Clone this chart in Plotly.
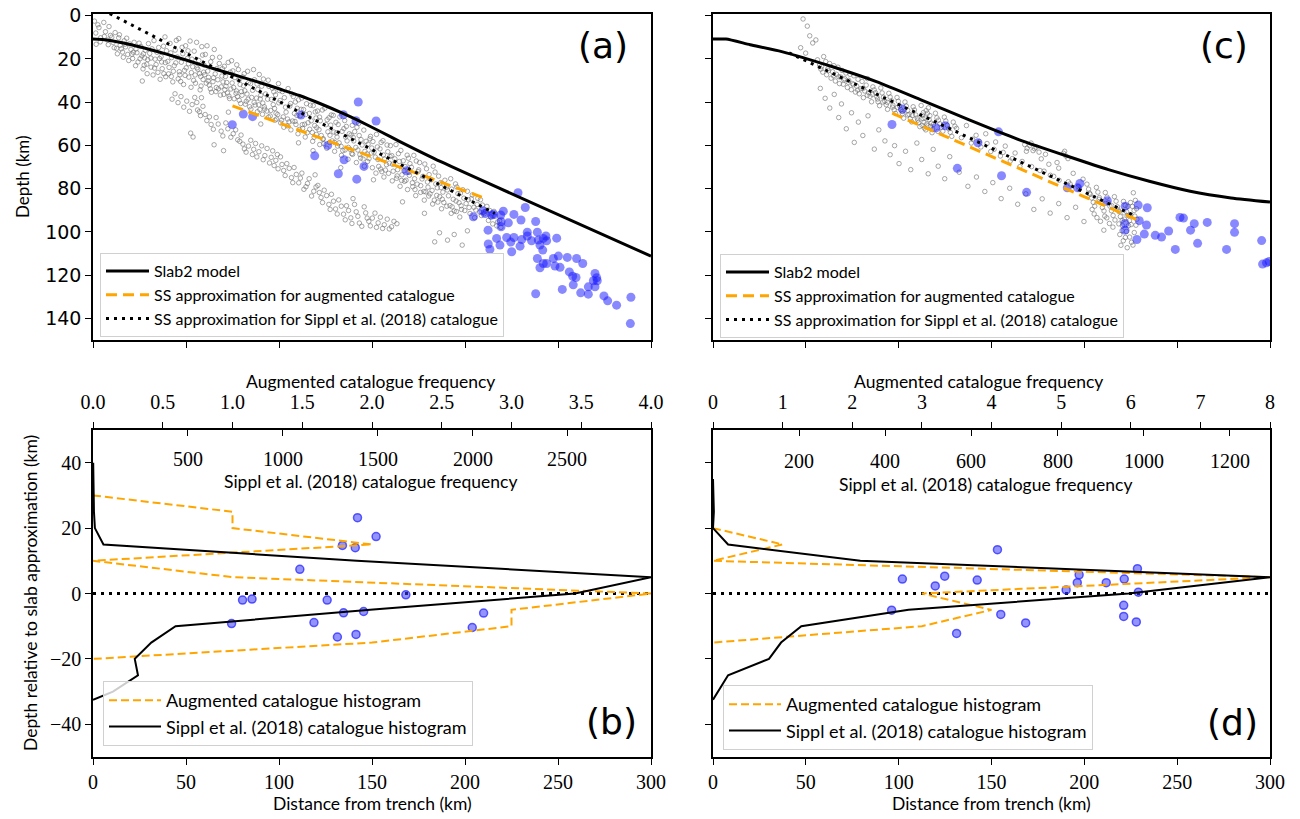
import plotly.graph_objects as go

# ---------------- data: panel (a) ----------------
slab_a_x = [0, 5, 10, 20, 30, 40, 50, 60, 70, 80, 90, 100, 111, 122, 135, 142, 155, 165, 187, 300]
slab_a_d = [10.8, 11.0, 11.6, 13.3, 15.5, 17.9, 20.5, 23.2, 25.8, 28.4, 31.0, 33.8, 36.9, 40.6, 45.4, 48.2, 53.8, 58.2, 67.5, 111.2]
ssaug_a_x = [75, 209]
ssaug_a_d = [41.7, 83.9]
sssip_a_x = [9, 216]
sssip_a_d = [-1.0, 91.4]

blue_a = [(74.9, 50.4), (80.8, 45.5), (85.8, 46.7), (111.8, 45.9), (134.6, 45.8), (141.4, 48.6), (142.6, 39.9),
          (152.2, 48.7), (126.2, 60.0), (119.2, 64.8), (135.0, 66.6), (145.7, 69.7), (131.9, 73.1), (141.8, 75.6),
          (168.6, 71.7),
          (228.5, 81.9), (232.4, 88.7), (220.6, 90.4), (215.2, 91.8), (204.5, 93.0), (219.2, 92.2), (226.3, 91.9),
          (230.1, 94.5), (238.0, 95.2), (219.4, 95.3), (223.3, 95.8), (219.4, 97.6), (212.4, 99.2), (233.5, 100.1),
          (238.9, 100.1), (243.5, 101.9), (233.5, 101.9), (217.0, 103.0), (222.4, 102.6), (226.3, 102.6),
          (230.5, 103.5), (235.8, 104.1), (239.4, 103.8), (242.1, 103.0), (243.9, 104.1), (249.3, 102.9),
          (212.5, 105.6), (218.8, 106.1), (224.6, 104.7), (229.6, 106.6), (240.3, 106.1), (241.8, 108.4),
          (213.4, 108.1), (225.1, 109.2), (250.2, 111.2), (247.5, 112.3), (255.0, 111.8), (260.0, 112.3),
          (263.3, 114.6), (238.9, 112.3), (242.1, 114.6), (240.3, 116.6), (243.9, 114.6), (248.4, 115.8),
          (251.1, 116.4), (256.1, 118.5), (257.9, 120.5), (259.7, 121.1), (269.9, 119.2), (270.8, 121.2),
          (269.0, 122.6), (271.1, 122.6), (258.2, 124.5), (266.3, 125.4), (269.9, 125.4), (252.3, 126.6),
          (262.2, 128.2), (266.3, 128.8), (274.7, 129.6), (276.7, 131.9), (281.5, 133.9), (289.2, 130.2),
          (288.9, 142.4), (238.0, 128.6), (209.5, 90.2), (210.8, 91.5), (214.3, 92.2)]

grey_a = [
    (1.5, 8), (3.2, 5.5), (4.1, 10.2), (5.8, 3.1), (6.7, 7.4), (7.9, 11.3), (8.6, 5.0), (9.4, 9.1),
    (10.8, 12.4), (11.9, 7.8), (12.7, 15.1), (13.8, 10.2), (14.6, 13.7), (15.9, 16.8), (16.8, 11.6), (17.5, 14.4),
    (18.7, 17.9), (19.6, 13.0), (20.4, 15.6), (21.3, 19.8), (22.1, 12.3), (23.6, 17.1), (24.2, 21.4), (25.7, 14.2),
    (26.3, 18.6), (27.5, 22.9), (28.1, 16.0), (29.4, 20.3), (29.8, 12.9), (30.5, 17.4), (31.2, 23.8), (32.8, 11.5),
    (33.4, 20.1), (34.9, 26.2), (35.3, 14.7), (36.6, 18.9), (37.2, 24.5), (38.7, 9.8), (38.9, 21.7), (39.5, 16.2),
    (40.6, 26.9), (41.4, 12.8), (42.3, 19.4), (43.7, 23.1), (44.2, 15.9), (45.8, 29.2), (46.1, 10.6), (47.5, 21.5),
    (48.3, 17.6), (49.2, 25.3), (49.8, 13.9), (50.7, 19.8), (51.5, 28.4), (52.2, 11.7), (53.6, 23.6), (54.4, 16.4),
    (55.1, 31.2), (56.9, 20.7), (57.3, 26.8), (58.5, 14.3), (59.2, 29.5), (59.8, 22.9), (60.4, 17.9), (61.7, 25.6),
    (62.5, 32.1), (63.3, 21.3), (64.8, 28.7), (65.2, 15.6), (66.7, 24.4), (67.4, 33.8), (68.1, 19.2), (69.3, 27.9),
    (69.9, 30.6), (70.6, 23.4), (71.9, 30.9), (72.3, 35.7), (73.8, 26.1), (74.5, 20.8), (75.6, 33.2), (76.3, 28.6),
    (77.7, 37.4), (78.2, 24.9), (79.1, 31.8), (79.8, 35.1), (80.5, 28.3), (81.6, 34.7), (82.4, 39.6), (83.1, 25.7),
    (84.7, 31.4), (85.3, 37.8), (86.8, 29.6), (87.2, 41.3), (88.6, 34.1), (89.4, 27.2), (89.9, 38.5), (90.7, 32.6),
    (91.3, 40.4), (92.8, 36.2), (93.5, 44.1), (94.2, 29.8), (95.9, 38.7), (96.4, 33.5), (97.6, 42.9), (98.1, 36.6),
    (99.3, 45.7), (99.7, 31.4), (100.6, 39.2), (101.8, 35.1), (102.3, 46.8), (103.5, 42.3), (104.9, 33.7),
    (105.4, 49.1), (106.2, 40.6), (107.7, 37.4), (108.3, 45.2), (109.1, 50.3), (109.8, 42.8), (110.5, 38.9),
    (111.4, 46.3), (112.7, 52.1), (113.2, 43.4), (114.8, 40.7), (115.6, 49.5), (116.3, 45.2), (117.9, 54.0),
    (118.4, 41.6), (119.2, 50.8), (119.9, 47.3), (120.7, 44.1), (121.5, 52.7), (122.2, 48.6), (123.8, 56.9),
    (124.6, 42.8), (125.3, 50.4), (126.9, 47.2), (127.4, 55.3), (128.1, 45.9), (129.5, 53.8), (129.8, 58.6),
    (130.6, 49.3), (131.2, 56.1), (132.7, 46.8), (133.4, 60.4), (134.9, 52.2), (135.3, 48.5), (136.6, 57.9),
    (137.8, 54.6), (138.2, 61.8), (139.4, 50.7), (139.9, 56.3), (140.7, 53.6), (141.3, 60.9), (142.8, 49.8),
    (143.5, 64.2), (144.1, 57.3), (145.6, 52.9), (146.2, 62.7), (147.9, 59.4), (148.4, 66.1), (149.2, 55.8),
    (149.7, 63.5), (150.5, 58.2), (151.8, 65.4), (152.4, 54.9), (153.6, 69.7), (154.3, 61.6), (155.9, 57.8),
    (156.7, 66.3), (157.2, 71.4), (158.5, 62.9), (159.3, 68.2), (159.9, 60.1), (160.6, 64.7), (161.4, 71.9),
    (162.9, 59.6), (163.2, 75.2), (164.7, 67.4), (165.5, 62.3), (166.1, 73.6), (167.8, 69.8), (168.3, 76.1),
    (169.6, 65.9), (169.9, 72.5), (170.4, 68.4), (171.7, 77.3), (172.5, 64.6), (173.1, 80.4), (174.8, 72.1),
    (175.6, 67.9), (176.2, 78.6), (177.4, 74.3), (178.9, 81.5), (179.3, 70.8), (179.8, 76.9), (180.7, 73.5),
    (181.2, 82.4), (182.9, 69.6), (183.5, 85.3), (184.3, 77.8), (185.8, 74.2), (186.4, 83.7), (187.1, 79.5),
    (188.6, 86.4), (189.2, 76.1), (190.5, 80.6), (191.9, 87.8), (192.3, 75.4), (193.7, 84.9), (194.2, 90.3),
    (195.6, 79.2), (196.8, 86.5), (197.5, 82.1), (198.1, 89.6), (199.4, 84.4), (200.6, 86.9), (201.3, 81.2),
    (202.7, 91.5), (203.4, 84.7), (204.8, 88.6), (205.2, 93.4), (206.5, 87.3), (207.9, 90.8), (208.3, 85.1),
    (210.4, 91.6), (211.8, 88.2), (212.6, 94.7), (213.3, 90.1), (214.9, 96.3), (216.2, 92.8), (217.5, 95.4),
    (2.6, 4.2), (3.9, 12.1), (6.1, 9.6), (8.2, 13.4), (10.1, 9.9), (11.4, 14.8), (13.1, 17.6), (14.2, 8.8),
    (16.3, 19.2), (18.1, 10.4), (19.2, 20.7), (21.7, 16.9), (22.9, 23.1), (24.8, 12.7), (26.9, 24.6), (27.8, 19.5),
    (29.1, 26.8), (31.7, 15.3), (32.3, 27.4), (33.9, 22.6), (35.8, 19.8), (36.1, 29.4), (37.9, 14.1), (39.1, 28.2),
    (40.2, 21.1), (41.8, 17.2), (42.9, 30.6), (43.2, 25.7), (44.8, 11.4), (45.3, 19.1), (46.7, 27.3), (47.9, 14.6),
    (48.7, 31.8), (50.1, 24.1), (51.1, 16.2), (52.7, 33.1), (53.2, 20.1), (54.9, 27.4), (55.7, 12.3), (56.4, 24.8),
    (57.6, 34.3), (58.9, 18.2), (59.5, 26.1), (60.9, 31.2), (61.3, 13.9), (62.1, 28.5), (63.7, 35.4), (64.2, 19.3),
    (65.7, 26.9), (66.3, 33.2), (67.9, 22.1), (68.5, 36.7), (69.6, 24.5), (70.9, 34.2), (71.2, 28.1), (72.7, 21.6),
    (73.4, 38.3), (74.8, 31.1), (75.2, 25.5), (76.9, 35.9), (77.3, 22.7), (78.5, 29.8), (79.4, 40.6), (80.9, 32.4),
    (81.3, 26.8), (82.8, 36.2), (83.7, 30.9), (84.2, 42.1), (85.8, 34.5), (86.3, 24.9), (87.9, 38.1), (88.2, 31.6),
    (89.7, 43.4), (90.2, 36.8), (91.6, 29.3), (92.3, 43.2), (93.9, 38.6), (94.6, 32.7), (95.3, 46.4), (96.9, 41.1),
    (97.2, 35.2), (98.7, 47.8), (99.9, 40.3), (100.2, 34.6), (101.4, 48.3), (102.9, 37.9), (103.8, 44.6),
    (104.4, 50.9), (105.8, 41.8), (106.9, 36.2), (107.3, 48.7), (108.8, 39.9), (109.6, 46.1), (110.9, 52.6),
    (111.9, 43.3), (112.2, 38.1), (113.8, 50.2), (114.3, 45.7), (115.2, 54.1), (116.9, 41.4), (117.3, 48.6),
    (118.9, 56.2), (119.5, 44.5), (120.3, 51.8), (121.8, 46.9), (122.7, 55.4), (123.3, 43.6), (124.1, 59.2),
    (125.9, 48.1), (126.3, 53.7), (127.8, 50.6), (128.6, 57.9), (129.2, 46.1), (130.9, 54.2), (131.8, 50.3),
    (132.3, 58.8), (133.9, 53.5), (134.3, 62.4), (135.8, 56.1), (136.2, 51.2), (137.3, 60.9), (138.7, 55.2),
    (139.1, 63.8), (140.2, 57.9), (141.9, 51.6), (142.4, 62.1), (143.1, 55.4), (144.7, 59.8), (145.2, 66.3),
    (146.8, 58.1), (147.3, 63.9), (148.9, 56.9), (149.9, 61.2), (151.1, 63.1), (152.9, 60.7), (153.2, 66.5),
    (154.9, 58.6), (155.3, 72.1), (156.1, 64.4), (157.8, 68.9), (158.1, 59.8), (159.7, 65.1), (161.1, 68.7),
    (162.3, 66.2), (163.8, 71.2), (164.2, 63.8), (165.9, 76.2), (166.8, 67.1), (167.2, 71.7), (168.9, 64.5),
    (170.1, 73.8), (171.2, 70.1), (172.9, 75.4), (173.8, 67.2), (174.3, 77.9), (175.1, 71.3), (176.9, 75.5),
    (177.9, 81.3), (178.4, 68.6), (180.1, 79.3), (181.8, 75.9), (182.3, 80.8), (183.9, 72.3), (184.8, 83.1),
    (185.1, 79.6), (186.9, 77.2), (187.8, 84.9), (188.1, 81.6), (189.9, 79.4), (191.1, 83.3), (192.8, 80.2),
    (193.1, 88.4), (194.9, 77.8), (195.2, 85.7), (196.2, 82.3), (197.9, 87.9), (198.8, 80.5), (199.9, 90.1),
    (201.8, 85.1), (202.2, 88.7), (203.9, 82.9), (205.8, 89.9), (206.9, 84.5), (208.8, 92.4), (209.4, 87.6),
    (211.1, 90.4), (213.8, 93.1), (215.6, 90.5), (217.1, 97.2), (218.6, 94.8), (219.3, 97.9),
    (15.2, 15.3), (17.1, 13.2), (20.9, 17.8), (23.1, 15.4), (25.3, 19.9), (27.1, 17.6), (28.9, 22.4), (31.1, 19.6),
    (33.1, 24.2), (34.4, 16.9), (36.9, 21.4), (38.1, 26.8), (40.9, 23.9), (42.1, 28.1), (44.5, 21.8), (46.4, 25.9),
    (47.1, 30.4), (49.5, 27.6), (51.3, 22.2), (52.9, 26.3), (54.1, 29.9), (55.9, 24.1), (57.9, 28.1), (58.1, 32.5),
    (60.1, 27.2), (61.9, 30.1), (63.1, 33.8), (64.5, 30.5), (66.1, 35.1), (67.1, 29.6), (68.9, 32.9), (70.3, 36.4),
    (71.5, 32.6), (73.1, 37.2), (74.1, 33.9), (75.9, 38.4), (77.1, 34.8), (78.6, 39.1), (80.1, 36.8), (81.9, 40.9),
    (83.4, 38.6), (84.9, 43.2), (86.6, 40.1), (88.4, 44.4), (89.1, 41.2), (91.1, 45.6), (92.1, 42.1), (94.4, 46.9),
    (95.6, 43.8), (97.9, 48.3), (98.4, 45.1), (100.9, 49.6), (102.6, 51.6), (104.6, 47.8), (106.4, 52.8),
    (108.6, 48.9), (110.2, 54.6), (112.5, 50.4), (114.1, 56.1), (116.5, 52.5), (118.1, 58.1), (120.1, 54.9),
    (121.9, 59.6), (123.6, 57.2), (125.7, 61.3), (127.2, 58.6), (129.9, 62.7), (131.5, 60.3), (133.6, 64.6),
    (135.5, 62.1), (137.1, 66.4), (139.6, 64.1), (141.6, 67.9), (143.9, 65.8), (145.9, 69.6), (147.6, 67.4),
    (150.2, 70.3), (152.1, 72.8), (154.6, 70.9), (156.4, 74.6), (158.9, 72.9), (160.9, 76.4), (163.5, 74.1),
    (165.1, 78.9), (167.5, 76.6), (169.1, 80.4), (171.9, 79.1), (173.5, 83.2), (176.1, 81.7), (178.1, 85.3),
    (180.5, 83.4), (182.6, 87.1), (185.4, 86.2), (187.4, 89.3), (190.2, 88.1), (192.6, 91.4), (195.4, 90.6),
    (197.2, 93.1),
    (42.5, 38.6), (44.1, 36.1), (45.7, 40.2), (47.3, 37.4), (48.8, 42.3), (50.4, 39.5), (51.9, 44.2), (53.3, 41.1),
    (54.7, 37.8), (56.2, 43.6), (57.8, 46.2), (59.1, 41.9), (52.5, 54.3), (53.8, 56.1), (61.2, 48.5), (63.5, 50.3),
    (66.2, 47.1), (68.9, 53.4), (71.4, 49.6), (74.1, 56.2), (76.7, 52.8), (78.9, 58.1), (65.1, 59.7), (70.2, 62.4),
    (80.6, 59.4), (82.3, 63.1), (84.8, 57.6), (86.4, 61.8), (88.1, 65.3), (90.7, 60.2), (92.4, 64.7), (94.9, 68.1),
    (96.6, 62.5), (98.3, 66.9), (99.5, 70.8), (100.8, 65.3), (102.5, 71.6), (104.2, 68.4), (106.7, 74.9),
    (108.1, 70.2), (110.6, 77.3), (112.3, 72.8), (114.5, 79.1), (116.2, 75.4), (118.7, 81.2), (119.4, 73.6),
    (120.9, 78.5), (122.6, 84.1), (124.3, 80.7), (126.8, 87.3), (128.2, 82.6), (130.4, 89.4), (132.1, 85.2),
    (134.7, 91.8), (136.3, 87.9), (138.6, 93.5), (139.8, 84.6), (141.5, 90.7), (143.2, 95.9), (145.8, 88.4),
    (147.4, 93.6), (149.1, 97.2), (151.6, 91.3), (153.3, 95.8), (155.7, 98.4), (158.2, 94.1), (160.5, 97.6),
    (163.4, 96.2),
    (55.8, 40.1), (57.2, 44.4), (60.3, 45.7), (62.6, 46.8), (64.7, 52.5), (67.3, 50.1), (69.8, 55.6), (72.5, 52.3),
    (75.4, 54.6), (77.8, 57.4), (79.6, 55.2), (81.4, 61.6), (83.6, 60.3), (85.7, 64.2), (87.4, 59.1), (89.2, 62.9),
    (91.5, 66.6), (93.6, 61.4), (95.8, 65.5), (97.4, 69.3), (99.1, 64.2), (101.6, 68.8), (103.3, 73.9),
    (105.5, 70.6), (107.4, 77.2), (109.3, 73.4), (111.5, 75.1), (113.4, 80.3), (115.3, 77.6), (117.5, 83.4),
    (119.9, 79.2), (121.7, 81.8), (123.4, 86.4), (125.6, 83.2), (127.5, 89.6), (129.3, 85.8), (131.3, 91.7),
    (133.5, 88.1), (135.6, 94.4), (137.4, 90.1), (139.2, 96.1), (140.6, 87.3), (142.4, 92.8), (144.5, 97.4),
    (146.6, 91.2), (148.3, 95.1), (150.2, 93.6), (152.4, 97.9), (154.5, 93.2), (156.6, 96.7), (159.3, 98.6),
    (161.8, 95.1),
    (26.5, 30.2), (58.3, 37.9), (90.2, 50.1), (118.3, 62.4), (150.8, 75.9), (166.4, 86.1), (178.2, 91.4),
    (186.3, 100.4), (190.6, 103.8), (194.2, 101.2), (198.5, 106.1), (183.7, 104.6), (201.3, 99.5), (0.8, 2.5),
    (1.7, 13.2), (72.8, 44.6), (110.5, 58.8), (133.2, 70.3)]

# ---------------- data: panel (c) ----------------
slab_c_x = [0, 7, 20, 37, 64, 88, 112, 138, 165, 191, 213, 235, 257, 279, 300]
slab_c_d = [10.8, 10.8, 13.4, 16.6, 23.5, 30.5, 38.9, 48.2, 57.4, 65.0, 71.2, 76.6, 81.2, 84.3, 86.2]
ssaug_c_x = [96.5, 228]
ssaug_c_d = [45.1, 94.2]
sssip_c_x = [41, 228]
sssip_c_d = [17.2, 92.9]

blue_c = [(102.1, 43.2), (96.4, 50.3), (120.1, 51.8), (125.1, 50.9), (142.7, 58.8), (153.8, 53.7), (131.6, 70.6),
          (155.4, 74.0), (168.9, 81.7), (190.8, 79.6), (196.4, 79.6), (197.6, 77.6), (212.4, 85.6), (222.0, 88.1),
          (229.0, 87.6), (233.9, 88.8), (229.6, 94.8), (221.9, 96.1), (221.9, 99.2), (233.5, 96.8), (232.3, 101.0),
          (228.3, 103.5), (238.2, 101.6), (241.6, 102.4), (245.4, 99.6), (251.5, 93.3), (253.4, 93.6),
          (259.2, 96.2), (257.2, 99.2), (266.2, 95.6), (261.0, 105.3), (249.0, 108.1), (276.6, 108.1),
          (280.9, 96.2), (280.9, 100.2), (295.5, 104.0), (296.0, 114.9), (298.1, 114.3), (299.6, 113.7)]

grey_c = [
    (48.5, 1.5), (50.8, 4.8), (52.1, 9.3), (53.7, 12.6), (47.2, 14.8), (55.4, 11.2), (49.9, 17.3),
    (56.3, 20.4), (58.1, 24.7), (59.6, 18.9), (61.2, 27.3), (62.8, 22.1), (64.4, 25.9), (65.9, 30.2), (67.3, 23.8),
    (68.8, 28.4), (70.2, 31.7), (71.6, 26.5), (73.1, 29.9), (74.5, 34.2), (75.9, 27.8), (77.4, 32.6), (78.8, 36.1),
    (80.3, 30.4), (81.7, 34.8), (83.2, 29.1), (84.6, 37.3), (86.1, 32.9), (87.5, 35.6), (88.9, 39.8), (90.4, 33.4),
    (91.8, 37.7), (93.3, 41.2), (94.7, 35.9), (96.2, 39.4), (97.6, 43.6), (99.1, 37.8), (100.5, 41.7),
    (102.0, 45.3), (103.4, 39.9), (104.9, 43.8), (106.3, 47.6), (107.8, 42.1), (109.2, 45.9), (110.7, 49.4),
    (112.1, 41.5), (113.3, 44.8), (114.2, 47.3), (115.1, 50.1), (116.0, 42.6), (116.8, 46.2), (117.5, 49.7),
    (118.3, 52.4), (113.9, 52.0), (119.8, 45.1), (121.4, 48.3), (123.0, 51.6), (124.6, 46.9), (126.2, 50.7),
    (127.8, 53.9), (129.4, 49.2),
    (57.8, 33.6), (60.4, 38.2), (62.9, 42.7), (65.3, 36.4), (67.7, 47.1), (69.2, 40.8), (71.8, 52.3),
    (74.6, 44.9), (76.1, 58.6), (78.3, 49.2), (80.7, 55.4), (83.5, 46.3), (86.9, 61.7), (89.3, 52.8),
    (92.6, 57.9), (95.4, 64.3), (97.8, 60.1), (100.2, 68.4), (103.7, 62.7), (106.5, 71.2), (109.8, 58.9),
    (112.4, 66.5), (115.9, 73.1), (118.6, 61.8), (121.3, 69.6), (124.8, 75.4), (127.5, 65.2),
    (131.2, 52.1), (133.8, 56.4), (136.5, 50.8), (139.1, 58.9), (141.7, 55.3), (144.3, 60.7), (146.9, 54.6),
    (149.6, 62.8), (152.2, 58.4), (154.8, 64.9), (157.4, 60.3), (160.1, 67.2), (162.7, 63.5), (165.3, 69.8),
    (167.9, 59.6), (169.2, 61.3), (170.6, 60.1), (172.4, 62.4), (174.1, 60.8), (176.8, 66.2), (178.3, 71.9),
    (180.9, 68.7), (183.5, 74.3), (186.2, 70.5), (188.8, 63.6), (190.1, 64.9), (191.4, 76.8), (194.0, 72.9),
    (196.7, 79.1), (199.3, 75.6),
    (132.6, 72.4), (137.3, 78.9), (141.9, 74.6), (146.4, 81.3), (150.7, 77.2), (155.2, 84.6), (159.8, 79.8),
    (164.1, 87.2), (168.5, 82.4), (172.8, 89.6), (177.3, 84.7), (181.6, 91.3), (186.2, 86.9), (190.7, 93.4),
    (195.3, 88.6), (199.8, 95.2),
    (201.4, 77.9), (203.2, 82.6), (204.8, 86.3), (206.5, 79.4), (208.1, 84.1), (209.7, 88.7), (211.3, 81.8),
    (212.9, 86.5), (214.6, 90.2), (216.2, 83.7), (217.8, 88.4), (219.4, 92.9), (221.1, 85.9), (222.7, 90.6),
    (224.3, 94.8), (225.9, 88.2), (227.2, 92.7), (218.6, 96.3), (220.3, 99.4), (222.1, 102.6), (223.8, 97.1),
    (225.4, 104.8), (226.9, 100.3), (219.7, 106.2), (221.6, 94.1), (223.1, 107.3), (215.4, 97.8), (212.1, 93.5),
    (208.7, 95.1), (205.3, 91.7), (210.5, 99.2), (227.8, 96.9), (224.9, 86.4), (226.4, 81.9), (228.1, 89.3),
    (57.4, 22.8), (59.1, 26.1), (60.7, 21.2), (62.2, 25.4), (63.6, 28.9), (65.1, 23.1), (66.5, 27.1), (68.1, 31.4),
    (69.5, 25.3), (70.9, 29.1), (72.4, 33.2), (73.8, 27.1), (75.2, 31.4), (76.7, 35.3), (78.1, 29.4), (79.6, 33.7),
    (81.0, 37.9), (82.5, 32.1), (83.9, 35.6), (85.4, 39.8), (86.8, 34.3), (88.2, 37.4), (89.7, 41.6), (91.1, 35.7),
    (92.5, 39.5), (94.0, 43.3), (95.4, 37.6), (96.9, 41.4), (98.3, 45.2), (99.8, 39.6), (101.2, 43.5),
    (102.7, 47.4), (104.1, 41.8), (105.6, 45.6), (107.0, 49.1), (108.5, 43.6), (110.0, 47.3), (111.4, 51.3),
    (112.8, 46.0), (113.6, 49.3), (114.6, 52.8), (115.5, 45.1), (116.4, 48.1), (117.2, 51.2), (118.0, 54.1),
    (112.6, 50.7), (114.8, 43.9), (120.6, 47.2), (122.2, 50.0), (123.8, 53.4), (125.4, 48.7), (127.0, 52.3),
    (128.6, 55.8), (130.3, 51.1),
    (202.3, 80.2), (203.9, 84.3), (205.6, 88.1), (207.3, 81.6), (208.9, 86.2), (210.6, 90.3), (212.2, 83.9),
    (213.8, 88.1), (215.5, 92.4), (217.1, 85.8), (218.7, 90.6), (220.4, 94.7), (222.0, 87.7), (223.6, 92.4),
    (225.2, 96.6), (226.8, 90.1), (228.3, 94.1), (219.1, 101.2), (221.0, 104.1), (222.7, 99.8), (224.4, 102.4),
    (226.2, 106.1), (220.5, 97.1), (223.5, 88.2), (227.5, 85.4), (216.5, 94.5), (213.5, 96.1), (211.0, 92.7),
    (206.8, 93.4), (204.2, 89.6),
    (171.3, 58.9), (173.2, 61.5), (175.6, 63.1), (168.8, 62.7), (189.4, 62.7), (191.2, 66.1), (185.3, 67.9),
    (179.1, 64.1),
    (58.5, 23.5), (61.8, 24.6), (64.9, 27.8), (67.8, 28.2), (70.5, 29.7), (72.9, 30.8), (75.6, 31.9), (77.9, 34.4),
    (80.8, 33.6), (83.1, 36.8), (85.9, 36.4), (88.6, 38.5), (91.5, 39.9), (93.9, 40.1), (96.7, 42.3), (99.4, 42.4),
    (101.9, 44.3), (104.8, 45.9), (107.4, 46.2), (110.3, 48.3), (113.1, 47.6), (115.8, 50.9), (118.7, 50.3),
    (121.1, 53.5), (139.8, 57.1), (143.5, 58.2), (147.6, 59.1), (151.4, 61.8), (156.3, 63.2), (161.2, 66.1),
    (166.5, 67.4), (171.6, 69.8), (176.1, 71.6), (181.7, 73.8), (186.4, 76.1), (192.3, 77.8), (197.2, 80.4),
    (202.8, 82.1), (207.9, 84.9), (211.6, 86.8), (214.8, 87.9), (218.2, 89.8), (221.4, 91.2), (224.9, 92.1)]

# ---------------- data: panel (b) ----------------
hist_aug_b_depth = [30, 25, 20, 15, 10, 5, 0, -5, -10, -15, -20]
hist_aug_b_freq = [0, 1, 1, 2, 0, 1, 4, 3, 3, 2, 0]
hist_sip_b_depth = [40, 35, 30, 25, 20, 15, 10, 5, 0, -5, -10, -15, -20, -25, -30, -32.5]
hist_sip_b_freq = [1, 2, 3, 5, 10, 55, 1390, 2940, 2540, 1460, 435, 307, 220, 237, 105, 0]
blue_b = [(142.2, 23.2), (152.2, 17.4), (134.1, 14.7), (141.0, 14.0), (111.2, 7.4), (168.2, -0.4), (80.4, -2.0),
          (85.5, -1.7), (125.9, -2.0), (134.7, -5.9), (145.5, -5.5), (210.0, -6.0), (74.5, -9.2), (118.8, -8.9),
          (203.9, -10.4), (131.4, -13.3), (141.4, -12.5)]

# ---------------- data: panel (d) ----------------
hist_aug_d_depth = [20, 15, 10, 5, 0, -5, -10, -15]
hist_aug_d_freq = [0, 1, 0, 8, 3, 4, 3, 0]
hist_sip_d_depth = [35, 30, 25, 20, 15, 10, 5, 0, -5, -10, -15, -20, -25, -32.5]
hist_sip_d_freq = [0, 1, 2, 0, 35, 342, 1293, 965, 454, 205, 158, 130, 35, 0]
blue_d = [(153.2, 13.4), (102.0, 4.4), (124.8, 5.3), (119.7, 2.3), (142.3, 4.1), (228.6, 7.6), (197.2, 5.7),
          (196.2, 3.3), (211.8, 3.3), (221.5, 4.4), (190.2, 1.1), (229.1, 0.4), (96.2, -5.1), (155.0, -6.4),
          (168.4, -9.0), (131.2, -12.2), (221.2, -3.6), (221.2, -7.0), (228.0, -8.7)]

zero_x = [0, 300]
zero_y = [0, 0]

# axis ranges / ticks
dist_range = [0, 300]
depth_range = [150, -0.8]
rel_range = [-50, 50]
aug_b_range = [0, 4]
sip_b_range = [0, 2940]
aug_d_range = [0, 8]
sip_d_range = [0, 1293]
sip_b_ticks = [500, 1000, 1500, 2000, 2500]
sip_d_ticks = [200, 400, 600, 800, 1000, 1200]

# ---------------- figure ----------------
W, H = 1300, 819
ORANGE = "#FFA500"
BLUE_TOP = "rgba(20,20,255,0.5)"
GREY = "rgba(110,110,110,0.6)"
SANS = "Lato, DejaVu Sans, sans-serif"
TICKSANS = "DejaVu Sans, sans-serif"
SERIF = "Liberation Serif, DejaVu Serif, serif"


def px(xp):
    return xp / W


def py(yp):
    return 1 - yp / H


fig = go.Figure()


def top_panel(xa, ya, grey, blue, sx, sd, ax, ad, bx, bd, leg):
    fig.add_trace(go.Scatter(x=[p[0] for p in grey], y=[p[1] for p in grey], mode="markers",
                             marker=dict(symbol="circle-open", size=4.5, color=GREY, line=dict(width=1)),
                             xaxis=xa, yaxis=ya, showlegend=False, hoverinfo="skip"))
    fig.add_trace(go.Scatter(x=[p[0] for p in blue], y=[p[1] for p in blue], mode="markers",
                             marker=dict(size=9, color=BLUE_TOP, line=dict(width=0)),
                             xaxis=xa, yaxis=ya, showlegend=False))
    fig.add_trace(go.Scatter(x=sx, y=sd, mode="lines", name="Slab2 model", line_shape="spline",
                             line=dict(color="black", width=3, smoothing=0.6), xaxis=xa, yaxis=ya, legend=leg))
    fig.add_trace(go.Scatter(x=ax, y=ad, mode="lines", name="SS approximation for augmented catalogue",
                             line=dict(color=ORANGE, width=3, dash="11px,6px"), xaxis=xa, yaxis=ya, legend=leg))
    fig.add_trace(go.Scatter(x=bx, y=bd, mode="lines", name="SS approximation for Sippl et al. (2018) catalogue",
                             line=dict(color="black", width=3, dash="3px,5px"), xaxis=xa, yaxis=ya, legend=leg))


top_panel("x", "y", grey_a, blue_a, slab_a_x, slab_a_d, ssaug_a_x, ssaug_a_d, sssip_a_x, sssip_a_d, "legend")
top_panel("x2", "y2", grey_c, blue_c, slab_c_x, slab_c_d, ssaug_c_x, ssaug_c_d, sssip_c_x, sssip_c_d, "legend2")


def bottom_panel(xa, ya, xaug, xsip, aug_f, aug_d, sip_f, sip_d, blue, leg):
    fig.add_trace(go.Scatter(x=zero_x, y=zero_y, mode="lines", line=dict(color="black", width=3, dash="3px,5px"),
                             xaxis=xa, yaxis=ya, showlegend=False, hoverinfo="skip"))
    fig.add_trace(go.Scatter(x=[p[0] for p in blue], y=[p[1] for p in blue], mode="markers",
                             marker=dict(size=8, color="rgba(60,60,255,0.55)",
                                         line=dict(width=1.5, color="rgba(30,30,255,0.7)")),
                             xaxis=xa, yaxis=ya, showlegend=False))
    fig.add_trace(go.Scatter(x=aug_f, y=aug_d, mode="lines", name="Augmented catalogue histogram",
                             line=dict(color=ORANGE, width=2, dash="8px,4px"), xaxis=xaug, yaxis=ya, legend=leg))
    fig.add_trace(go.Scatter(x=sip_f, y=sip_d, mode="lines", name="Sippl et al. (2018) catalogue histogram",
                             line=dict(color="black", width=2), xaxis=xsip, yaxis=ya, legend=leg))


bottom_panel("x3", "y3", "x5", "x6", hist_aug_b_freq, hist_aug_b_depth, hist_sip_b_freq, hist_sip_b_depth,
             blue_b, "legend3")
bottom_panel("x4", "y4", "x7", "x8", hist_aug_d_freq, hist_aug_d_depth, hist_sip_d_freq, hist_sip_d_depth,
             blue_d, "legend4")

LEFT = [px(93), px(651)]
RIGHT = [px(713), px(1270)]
TOP = [py(340), py(14)]
BOT = [py(757), py(430)]

common = dict(showline=True, linecolor="black", linewidth=1.5, mirror=True, showgrid=False, zeroline=False,
              ticks="outside", ticklen=6, tickwidth=1.3, tickcolor="black")

dist_ticks = [0, 50, 100, 150, 200, 250, 300]

fig.update_layout(
    width=W, height=H, margin=dict(l=0, r=0, t=0, b=0, autoexpand=False),
    paper_bgcolor="white", plot_bgcolor="white",
    xaxis=dict(domain=LEFT, range=dist_range, anchor="y", tickvals=dist_ticks, showticklabels=False, **common),
    yaxis=dict(domain=TOP, range=depth_range, anchor="x", tickvals=[0, 20, 40, 60, 80, 100, 120, 140],
               tickfont=dict(family=TICKSANS, size=19, color="black"), **common),
    xaxis2=dict(domain=RIGHT, range=dist_range, anchor="y2", tickvals=dist_ticks, showticklabels=False, **common),
    yaxis2=dict(domain=TOP, range=depth_range, anchor="x2", tickvals=[0, 20, 40, 60, 80, 100, 120, 140],
                showticklabels=False, **common),
    xaxis3=dict(domain=LEFT, range=dist_range, anchor="y3", tickvals=dist_ticks,
                tickfont=dict(family=SERIF, size=20, color="black"), **common),
    yaxis3=dict(domain=BOT, range=rel_range, anchor="x3", tickvals=[-40, -20, 0, 20, 40],
                ticktext=["\u221240", "\u221220", "0", "20", "40"],
                tickfont=dict(family=SERIF, size=20, color="black"), **common),
    xaxis4=dict(domain=RIGHT, range=dist_range, anchor="y4", tickvals=dist_ticks,
                tickfont=dict(family=SERIF, size=20, color="black"), **common),
    yaxis4=dict(domain=BOT, range=rel_range, anchor="x4", tickvals=[-40, -20, 0, 20, 40],
                showticklabels=False, **common),
    xaxis5=dict(overlaying="x3", anchor="y3", side="top", range=aug_b_range, dtick=0.5, tick0=0,
                tickformat=".1f", ticks="outside", ticklen=6, tickwidth=1.3, tickcolor="black",
                showline=True, linecolor="black", linewidth=1.5, showgrid=False, zeroline=False,
                ticklabelstandoff=5, tickfont=dict(family=SERIF, size=20, color="black")),
    xaxis6=dict(overlaying="x3", anchor="y3", side="top", range=sip_b_range, tickvals=sip_b_ticks,
                ticks="inside", ticklen=6, tickwidth=1.3, tickcolor="black", showticklabels=False,
                showline=False, showgrid=False, zeroline=False),
    xaxis7=dict(overlaying="x4", anchor="y4", side="top", range=aug_d_range, dtick=1, tick0=0,
                ticks="outside", ticklen=6, tickwidth=1.3, tickcolor="black",
                showline=True, linecolor="black", linewidth=1.5, showgrid=False, zeroline=False,
                ticklabelstandoff=5, tickfont=dict(family=SERIF, size=20, color="black")),
    xaxis8=dict(overlaying="x4", anchor="y4", side="top", range=sip_d_range, tickvals=sip_d_ticks,
                ticks="inside", ticklen=6, tickwidth=1.3, tickcolor="black", showticklabels=False,
                showline=False, showgrid=False, zeroline=False),
)

leg_common = dict(bgcolor="rgba(255,255,255,0.8)", bordercolor="#d0d0d0", borderwidth=1,
                  xanchor="left", yanchor="top", tracegroupgap=0)
fig.update_layout(
    legend=dict(x=px(100), y=py(253), font=dict(family=SANS, size=16, color="black"), itemwidth=43, **leg_common),
    legend2=dict(x=px(720), y=py(254), font=dict(family=SANS, size=16, color="black"), itemwidth=43, **leg_common),
    legend3=dict(x=px(103), y=py(681), font=dict(family=SANS, size=18, color="black"), itemwidth=52, **leg_common),
    legend4=dict(x=px(723), y=py(685), font=dict(family=SANS, size=18, color="black"), itemwidth=52, **leg_common),
)

ann = []


def label(text, x, y, size, angle=0, family=SANS, xref="paper"):
    ann.append(dict(text=text, x=x, y=y, xref=xref, yref="paper", showarrow=False, textangle=angle,
                    font=dict(family=family, size=size, color="black"), xanchor="center", yanchor="middle"))


# Sippl frequency tick labels (drawn inside the panels, on the Sippl axes)
for v in sip_b_ticks:
    label(str(v), v, py(459), 20, 0, SERIF, "x6")
for v in sip_d_ticks:
    label(str(v), v, py(461), 20, 0, SERIF, "x8")

label("Depth (km)", px(22), py(177), 17, -90)
label("Depth relative to slab approximation (km)", px(30), py(593), 17.5, -90)
label("Distance from trench (km)", px(372), py(803), 17.5)
label("Distance from trench (km)", px(991), py(803), 17.5)
label("Augmented catalogue frequency", px(370), py(381), 17.5)
label("Augmented catalogue frequency", px(978), py(381), 17.5)
label("Sippl et al. (2018) catalogue frequency", px(370), py(481), 17.5)
label("Sippl et al. (2018) catalogue frequency", px(986), py(484), 17.5)
label("(a)", px(603), py(45), 36, 0, TICKSANS)
label("(c)", px(1224), py(45), 36, 0, TICKSANS)
label("(b)", px(611), py(721), 36, 0, TICKSANS)
label("(d)", px(1232), py(722), 36, 0, TICKSANS)
fig.update_layout(annotations=ann)

fig.write_html("out.html")
